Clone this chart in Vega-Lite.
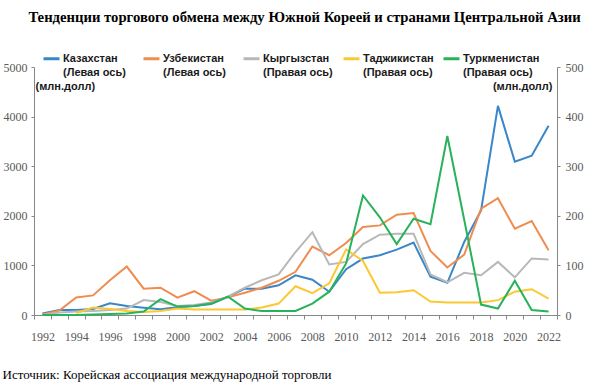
{
  "$schema": "https://vega.github.io/schema/vega-lite/v6.json",
  "width": 523,
  "height": 248,
  "autosize": "none",
  "padding": {"left": 34, "top": 67, "right": 56, "bottom": 68},
  "background": "white",
  "title": {
    "text": "Тенденции торгового обмена между Южной Кореей и странами Центральной Азии",
    "font": "Liberation Serif",
    "fontSize": 14.7,
    "fontWeight": "bold",
    "color": "#000000",
    "anchor": "middle",
    "dx": 9,
    "offset": 24
  },
  "config": {
    "view": {"stroke": null},
    "axis": {
      "grid": false,
      "domainColor": "#878787",
      "tickColor": "#878787",
      "labelFont": "Liberation Sans Narrow",
      "labelFontSize": 12,
      "labelColor": "#595959"
    },
    "legend": {
      "orient": "none",
      "legendX": 8,
      "legendY": -18,
      "direction": "horizontal",
      "columns": 5,
      "gridAlign": "all",
      "columnPadding": -3,
      "padding": 0,
      "symbolType": "stroke",
      "symbolSize": 256,
      "symbolStrokeWidth": 3,
      "labelFont": "Liberation Sans",
      "labelFontSize": 11,
      "labelFontWeight": "bold",
      "labelColor": "#1a1a1a",
      "labelBaseline": "middle",
      "labelOffset": 2,
      "labelLimit": 0
    }
  },
  "datasets": {
    "trade": [
      {"year": 1992, "s": "Казахстан|(Левая ось)", "v": 30},
      {"year": 1993, "s": "Казахстан|(Левая ось)", "v": 100},
      {"year": 1994, "s": "Казахстан|(Левая ось)", "v": 100},
      {"year": 1995, "s": "Казахстан|(Левая ось)", "v": 120},
      {"year": 1996, "s": "Казахстан|(Левая ось)", "v": 235},
      {"year": 1997, "s": "Казахстан|(Левая ось)", "v": 180},
      {"year": 1998, "s": "Казахстан|(Левая ось)", "v": 147},
      {"year": 1999, "s": "Казахстан|(Левая ось)", "v": 114},
      {"year": 2000, "s": "Казахстан|(Левая ось)", "v": 154},
      {"year": 2001, "s": "Казахстан|(Левая ось)", "v": 180},
      {"year": 2002, "s": "Казахстан|(Левая ось)", "v": 220},
      {"year": 2003, "s": "Казахстан|(Левая ось)", "v": 368},
      {"year": 2004, "s": "Казахстан|(Левая ось)", "v": 530},
      {"year": 2005, "s": "Казахстан|(Левая ось)", "v": 530},
      {"year": 2006, "s": "Казахстан|(Левая ось)", "v": 600},
      {"year": 2007, "s": "Казахстан|(Левая ось)", "v": 800},
      {"year": 2008, "s": "Казахстан|(Левая ось)", "v": 710},
      {"year": 2009, "s": "Казахстан|(Левая ось)", "v": 469},
      {"year": 2010, "s": "Казахстан|(Левая ось)", "v": 924},
      {"year": 2011, "s": "Казахстан|(Левая ось)", "v": 1138},
      {"year": 2012, "s": "Казахстан|(Левая ось)", "v": 1205},
      {"year": 2013, "s": "Казахстан|(Левая ось)", "v": 1318},
      {"year": 2014, "s": "Казахстан|(Левая ось)", "v": 1459},
      {"year": 2015, "s": "Казахстан|(Левая ось)", "v": 770},
      {"year": 2016, "s": "Казахстан|(Левая ось)", "v": 650},
      {"year": 2017, "s": "Казахстан|(Левая ось)", "v": 1472},
      {"year": 2018, "s": "Казахстан|(Левая ось)", "v": 2108},
      {"year": 2019, "s": "Казахстан|(Левая ось)", "v": 4217},
      {"year": 2020, "s": "Казахстан|(Левая ось)", "v": 3092},
      {"year": 2021, "s": "Казахстан|(Левая ось)", "v": 3213},
      {"year": 2022, "s": "Казахстан|(Левая ось)", "v": 3815},
      {"year": 1992, "s": "Узбекистан|(Левая ось)", "v": 10},
      {"year": 1993, "s": "Узбекистан|(Левая ось)", "v": 90},
      {"year": 1994, "s": "Узбекистан|(Левая ось)", "v": 355},
      {"year": 1995, "s": "Узбекистан|(Левая ось)", "v": 395},
      {"year": 1996, "s": "Узбекистан|(Левая ось)", "v": 700},
      {"year": 1997, "s": "Узбекистан|(Левая ось)", "v": 977},
      {"year": 1998, "s": "Узбекистан|(Левая ось)", "v": 530},
      {"year": 1999, "s": "Узбекистан|(Левая ось)", "v": 550},
      {"year": 2000, "s": "Узбекистан|(Левая ось)", "v": 350},
      {"year": 2001, "s": "Узбекистан|(Левая ось)", "v": 480},
      {"year": 2002, "s": "Узбекистан|(Левая ось)", "v": 290},
      {"year": 2003, "s": "Узбекистан|(Левая ось)", "v": 355},
      {"year": 2004, "s": "Узбекистан|(Левая ось)", "v": 450},
      {"year": 2005, "s": "Узбекистан|(Левая ось)", "v": 550},
      {"year": 2006, "s": "Узбекистан|(Левая ось)", "v": 690},
      {"year": 2007, "s": "Узбекистан|(Левая ось)", "v": 870},
      {"year": 2008, "s": "Узбекистан|(Левая ось)", "v": 1380},
      {"year": 2009, "s": "Узбекистан|(Левая ось)", "v": 1205},
      {"year": 2010, "s": "Узбекистан|(Левая ось)", "v": 1452},
      {"year": 2011, "s": "Узбекистан|(Левая ось)", "v": 1774},
      {"year": 2012, "s": "Узбекистан|(Левая ось)", "v": 1807},
      {"year": 2013, "s": "Узбекистан|(Левая ось)", "v": 2022},
      {"year": 2014, "s": "Узбекистан|(Левая ось)", "v": 2055},
      {"year": 2015, "s": "Узбекистан|(Левая ось)", "v": 1292},
      {"year": 2016, "s": "Узбекистан|(Левая ось)", "v": 957},
      {"year": 2017, "s": "Узбекистан|(Левая ось)", "v": 1218},
      {"year": 2018, "s": "Узбекистан|(Левая ось)", "v": 2142},
      {"year": 2019, "s": "Узбекистан|(Левая ось)", "v": 2356},
      {"year": 2020, "s": "Узбекистан|(Левая ось)", "v": 1740},
      {"year": 2021, "s": "Узбекистан|(Левая ось)", "v": 1894},
      {"year": 2022, "s": "Узбекистан|(Левая ось)", "v": 1305},
      {"year": 1992, "s": "Кыргызстан|(Правая ось)", "v": 0},
      {"year": 1993, "s": "Кыргызстан|(Правая ось)", "v": 5},
      {"year": 1994, "s": "Кыргызстан|(Правая ось)", "v": 7},
      {"year": 1995, "s": "Кыргызстан|(Правая ось)", "v": 8},
      {"year": 1996, "s": "Кыргызстан|(Правая ось)", "v": 10},
      {"year": 1997, "s": "Кыргызстан|(Правая ось)", "v": 13},
      {"year": 1998, "s": "Кыргызстан|(Правая ось)", "v": 30},
      {"year": 1999, "s": "Кыргызстан|(Правая ось)", "v": 26},
      {"year": 2000, "s": "Кыргызстан|(Правая ось)", "v": 18},
      {"year": 2001, "s": "Кыргызстан|(Правая ось)", "v": 20},
      {"year": 2002, "s": "Кыргызстан|(Правая ось)", "v": 25},
      {"year": 2003, "s": "Кыргызстан|(Правая ось)", "v": 37},
      {"year": 2004, "s": "Кыргызстан|(Правая ось)", "v": 55},
      {"year": 2005, "s": "Кыргызстан|(Правая ось)", "v": 70},
      {"year": 2006, "s": "Кыргызстан|(Правая ось)", "v": 82},
      {"year": 2007, "s": "Кыргызстан|(Правая ось)", "v": 127},
      {"year": 2008, "s": "Кыргызстан|(Правая ось)", "v": 167},
      {"year": 2009, "s": "Кыргызстан|(Правая ось)", "v": 102},
      {"year": 2010, "s": "Кыргызстан|(Правая ось)", "v": 107},
      {"year": 2011, "s": "Кыргызстан|(Правая ось)", "v": 143},
      {"year": 2012, "s": "Кыргызстан|(Правая ось)", "v": 162},
      {"year": 2013, "s": "Кыргызстан|(Правая ось)", "v": 164},
      {"year": 2014, "s": "Кыргызстан|(Правая ось)", "v": 164},
      {"year": 2015, "s": "Кыргызстан|(Правая ось)", "v": 82},
      {"year": 2016, "s": "Кыргызстан|(Правая ось)", "v": 66},
      {"year": 2017, "s": "Кыргызстан|(Правая ось)", "v": 85},
      {"year": 2018, "s": "Кыргызстан|(Правая ось)", "v": 80},
      {"year": 2019, "s": "Кыргызстан|(Правая ось)", "v": 107},
      {"year": 2020, "s": "Кыргызстан|(Правая ось)", "v": 76},
      {"year": 2021, "s": "Кыргызстан|(Правая ось)", "v": 114},
      {"year": 2022, "s": "Кыргызстан|(Правая ось)", "v": 112},
      {"year": 1994, "s": "Таджикистан|(Правая ось)", "v": 4},
      {"year": 1995, "s": "Таджикистан|(Правая ось)", "v": 15},
      {"year": 1996, "s": "Таджикистан|(Правая ось)", "v": 12},
      {"year": 1997, "s": "Таджикистан|(Правая ось)", "v": 8},
      {"year": 1998, "s": "Таджикистан|(Правая ось)", "v": 6},
      {"year": 1999, "s": "Таджикистан|(Правая ось)", "v": 8},
      {"year": 2000, "s": "Таджикистан|(Правая ось)", "v": 13},
      {"year": 2001, "s": "Таджикистан|(Правая ось)", "v": 11},
      {"year": 2002, "s": "Таджикистан|(Правая ось)", "v": 11},
      {"year": 2003, "s": "Таджикистан|(Правая ось)", "v": 11},
      {"year": 2004, "s": "Таджикистан|(Правая ось)", "v": 11},
      {"year": 2005, "s": "Таджикистан|(Правая ось)", "v": 15},
      {"year": 2006, "s": "Таджикистан|(Правая ось)", "v": 23},
      {"year": 2007, "s": "Таджикистан|(Правая ось)", "v": 58},
      {"year": 2008, "s": "Таджикистан|(Правая ось)", "v": 44},
      {"year": 2009, "s": "Таджикистан|(Правая ось)", "v": 64},
      {"year": 2010, "s": "Таджикистан|(Правая ось)", "v": 132},
      {"year": 2011, "s": "Таджикистан|(Правая ось)", "v": 109},
      {"year": 2012, "s": "Таджикистан|(Правая ось)", "v": 45},
      {"year": 2013, "s": "Таджикистан|(Правая ось)", "v": 46},
      {"year": 2014, "s": "Таджикистан|(Правая ось)", "v": 50},
      {"year": 2015, "s": "Таджикистан|(Правая ось)", "v": 27},
      {"year": 2016, "s": "Таджикистан|(Правая ось)", "v": 25},
      {"year": 2017, "s": "Таджикистан|(Правая ось)", "v": 25},
      {"year": 2018, "s": "Таджикистан|(Правая ось)", "v": 25},
      {"year": 2019, "s": "Таджикистан|(Правая ось)", "v": 30},
      {"year": 2020, "s": "Таджикистан|(Правая ось)", "v": 47},
      {"year": 2021, "s": "Таджикистан|(Правая ось)", "v": 52},
      {"year": 2022, "s": "Таджикистан|(Правая ось)", "v": 33},
      {"year": 1992, "s": "Туркменистан|(Правая ось)", "v": 0},
      {"year": 1993, "s": "Туркменистан|(Правая ось)", "v": 0},
      {"year": 1994, "s": "Туркменистан|(Правая ось)", "v": 0},
      {"year": 1995, "s": "Туркменистан|(Правая ось)", "v": 1},
      {"year": 1996, "s": "Туркменистан|(Правая ось)", "v": 2},
      {"year": 1997, "s": "Туркменистан|(Правая ось)", "v": 3},
      {"year": 1998, "s": "Туркменистан|(Правая ось)", "v": 7},
      {"year": 1999, "s": "Туркменистан|(Правая ось)", "v": 32},
      {"year": 2000, "s": "Туркменистан|(Правая ось)", "v": 17},
      {"year": 2001, "s": "Туркменистан|(Правая ось)", "v": 18},
      {"year": 2002, "s": "Туркменистан|(Правая ось)", "v": 23},
      {"year": 2003, "s": "Туркменистан|(Правая ось)", "v": 37},
      {"year": 2004, "s": "Туркменистан|(Правая ось)", "v": 13},
      {"year": 2005, "s": "Туркменистан|(Правая ось)", "v": 8},
      {"year": 2006, "s": "Туркменистан|(Правая ось)", "v": 8},
      {"year": 2007, "s": "Туркменистан|(Правая ось)", "v": 8},
      {"year": 2008, "s": "Туркменистан|(Правая ось)", "v": 23},
      {"year": 2009, "s": "Туркменистан|(Правая ось)", "v": 47},
      {"year": 2010, "s": "Туркменистан|(Правая ось)", "v": 104},
      {"year": 2011, "s": "Туркменистан|(Правая ось)", "v": 241},
      {"year": 2012, "s": "Туркменистан|(Правая ось)", "v": 197},
      {"year": 2013, "s": "Туркменистан|(Правая ось)", "v": 143},
      {"year": 2014, "s": "Туркменистан|(Правая ось)", "v": 194},
      {"year": 2015, "s": "Туркменистан|(Правая ось)", "v": 183},
      {"year": 2016, "s": "Туркменистан|(Правая ось)", "v": 361},
      {"year": 2017, "s": "Туркменистан|(Правая ось)", "v": 192},
      {"year": 2018, "s": "Туркменистан|(Правая ось)", "v": 21},
      {"year": 2019, "s": "Туркменистан|(Правая ось)", "v": 13},
      {"year": 2020, "s": "Туркменистан|(Правая ось)", "v": 69},
      {"year": 2021, "s": "Туркменистан|(Правая ось)", "v": 10},
      {"year": 2022, "s": "Туркменистан|(Правая ось)", "v": 7}
    ]
  },
  "data": {"name": "trade"},
  "layer": [
    {
      "transform": [{"filter": "indexof(datum.s, 'Левая') >= 0"}],
      "mark": {"type": "line", "strokeWidth": 2},
      "encoding": {
        "x": {
          "field": "year", "type": "quantitative",
          "scale": {"domain": [1991.5, 2022.5], "nice": false, "zero": false},
          "axis": {
            "orient": "bottom",
            "values": [1992, 1994, 1996, 1998, 2000, 2002, 2004, 2006, 2008, 2010, 2012, 2014, 2016, 2018, 2020, 2022],
            "format": "d",
            "ticks": false,
            "labelPadding": 16,
            "labelFlush": false,
            "labelBaseline": "top",
            "title": "Источник: Корейская ассоциация международной торговли",
            "titleFont": "Liberation Serif",
            "titleFontSize": 13,
            "titleFontWeight": "normal",
            "titleColor": "#000000",
            "titleAlign": "left",
            "titleAnchor": "start",
            "titleBaseline": "alphabetic",
            "titleX": -32,
            "titleY": 63
          }
        },
        "y": {
          "field": "v", "type": "quantitative",
          "scale": {"domain": [0, 5000], "nice": false},
          "axis": {
            "orient": "left",
            "values": [0, 1000, 2000, 3000, 4000, 5000],
            "format": "d",
            "tickSize": 3,
            "labelPadding": 4,
            "title": "(млн.долл)",
            "titleAngle": 0,
            "titleX": 1,
            "titleY": 22,
            "titleAlign": "left",
            "titleBaseline": "alphabetic",
            "titleFont": "Liberation Sans",
            "titleFontSize": 11,
            "titleFontWeight": "bold",
            "titleColor": "#1a1a1a"
          }
        },
        "color": {
          "field": "s", "type": "nominal",
          "scale": {
            "domain": ["Казахстан|(Левая ось)", "Узбекистан|(Левая ось)", "Кыргызстан|(Правая ось)", "Таджикистан|(Правая ось)", "Туркменистан|(Правая ось)"],
            "range": ["#3a87c8", "#ef8c50", "#b8b8b8", "#fcc832", "#27b35a"]
          },
          "legend": {
            "labelExpr": "split(datum.label, '|')",
            "title": null,
            "encode": {"labels": {"update": {"lineHeight": {"value": 14}}}}
          }
        }
      }
    },
    {
      "transform": [{"filter": "indexof(datum.s, 'Правая') >= 0"}],
      "mark": {"type": "line", "strokeWidth": 2},
      "encoding": {
        "x": {
          "field": "year", "type": "quantitative",
          "scale": {"domain": [1991.5, 2022.5], "nice": false, "zero": false},
          "axis": {
            "orient": "bottom",
            "values": [1991.5, 1992.5, 1993.5, 1994.5, 1995.5, 1996.5, 1997.5, 1998.5, 1999.5, 2000.5, 2001.5, 2002.5, 2003.5, 2004.5, 2005.5, 2006.5, 2007.5, 2008.5, 2009.5, 2010.5, 2011.5, 2012.5, 2013.5, 2014.5, 2015.5, 2016.5, 2017.5, 2018.5, 2019.5, 2020.5, 2021.5, 2022.5],
            "labels": false,
            "domain": false,
            "tickSize": 4,
            "title": null
          }
        },
        "y": {
          "field": "v", "type": "quantitative",
          "scale": {"domain": [0, 500], "nice": false},
          "axis": {
            "orient": "right",
            "values": [0, 100, 200, 300, 400, 500],
            "format": "d",
            "tickSize": 3,
            "labelPadding": 5,
            "title": "(млн.долл)",
            "titleAngle": 0,
            "titleX": -5,
            "titleY": 22,
            "titleAlign": "right",
            "titleBaseline": "alphabetic",
            "titleFont": "Liberation Sans",
            "titleFontSize": 11,
            "titleFontWeight": "bold",
            "titleColor": "#1a1a1a"
          }
        },
        "color": {
          "field": "s", "type": "nominal",
          "scale": {
            "domain": ["Казахстан|(Левая ось)", "Узбекистан|(Левая ось)", "Кыргызстан|(Правая ось)", "Таджикистан|(Правая ось)", "Туркменистан|(Правая ось)"],
            "range": ["#3a87c8", "#ef8c50", "#b8b8b8", "#fcc832", "#27b35a"]
          },
          "legend": {
            "labelExpr": "split(datum.label, '|')",
            "title": null,
            "encode": {"labels": {"update": {"lineHeight": {"value": 14}}}}
          }
        }
      }
    }
  ],
  "resolve": {"scale": {"y": "independent"}, "axis": {"x": "independent", "y": "independent"}}
}
